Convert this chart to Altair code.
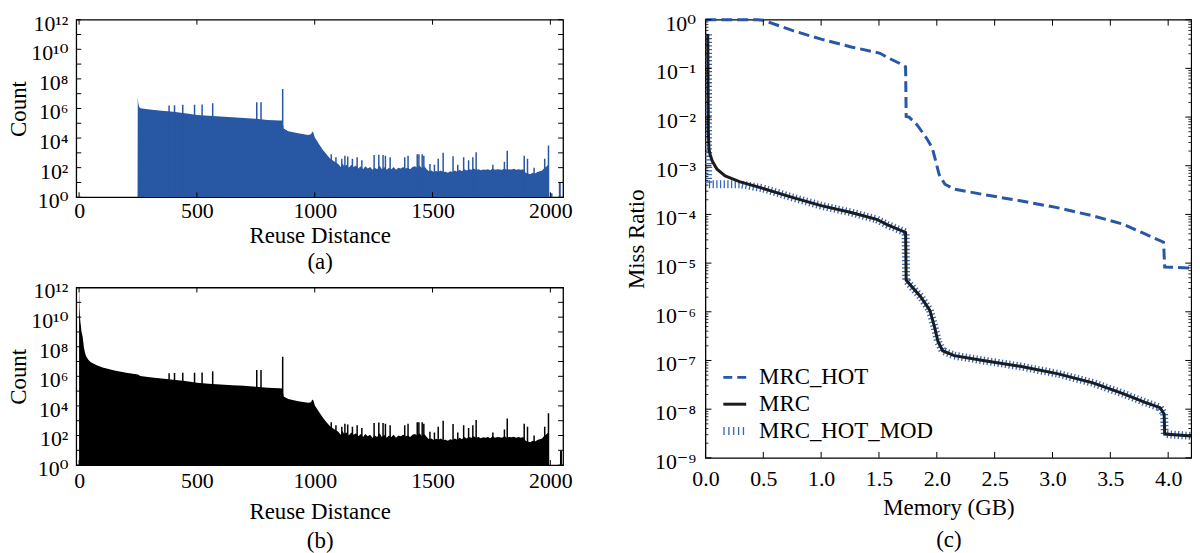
import altair as alt
import pandas as pd

FONT = "Liberation Serif, Tinos, Times New Roman, DejaVu Serif, serif"
BLUE = "#2857a4"
HATCH = "#3466b8"
BLACK = "#1c1c1c"

# ---------------- panels (a) / (b): reuse-distance histograms (log10 of count) -------------
hist_x_ticks = [0, 500, 1000, 1500, 2000]
hist_exps = list(range(0, 13))
hist_label_exps = [0, 2, 4, 6, 8, 10, 12]

head_a_dist = [248, 249, 251, 254, 258]
head_a_log = [0.0, 6.76, 6.40, 6.15, 6.05]

head_b_dist = [0, 1, 2, 4, 6, 8, 10, 12, 15, 18, 20, 25, 30, 40, 50, 75, 100, 150, 200, 250]
head_b_log = [11.8, 11.5, 10.6, 10.0, 9.6, 9.4, 9.0, 8.9, 8.7, 8.3, 8.0, 7.6, 7.35, 7.1, 6.95,
              6.75, 6.6, 6.4, 6.25, 6.12]

body_dist = [260, 300, 350, 400, 450, 500, 550, 600, 650, 700, 750, 800, 850, 863, 868, 888,
             930, 972, 984, 990, 995, 1000, 1010, 1020, 1035, 1050, 1065, 1080, 1095,
             1100, 1110, 1118, 1125, 1135, 1145, 1155, 1165, 1175, 1185, 1195, 1205, 1215, 1225,
             1235, 1245, 1255, 1265, 1275, 1285, 1295, 1305, 1315, 1325, 1335, 1345, 1355, 1365,
             1375, 1385, 1395, 1405, 1415, 1425, 1435, 1445, 1455, 1465, 1475, 1485, 1495, 1505,
             1515, 1525, 1535, 1545, 1555, 1565, 1575, 1585, 1595, 1605, 1615, 1625, 1635, 1645,
             1655, 1665, 1675, 1685, 1695, 1705, 1715, 1725, 1735, 1745, 1755, 1765, 1775, 1785,
             1795, 1805, 1815, 1825, 1835, 1845, 1855, 1865, 1875, 1885, 1895, 1905, 1915, 1925,
             1935, 1945, 1955, 1965, 1975, 1985, 1990, 1992, 1993]
body_log = [6.02, 5.93, 5.85, 5.77, 5.68, 5.56, 5.50, 5.45, 5.40, 5.36, 5.30, 5.22, 5.19, 5.18,
            4.64, 4.46, 4.32, 4.21, 4.25, 4.44, 4.35, 4.05, 3.80, 3.55, 3.20, 2.90, 2.62, 2.45,
            2.30,
            2.25, 2.05, 2.30, 2.10, 2.20, 2.00, 2.20, 2.05, 2.15, 1.95, 2.10, 1.90, 2.10, 1.95,
            2.05, 1.85, 2.00, 1.90, 2.15, 1.90, 2.05, 1.85, 2.00, 1.90, 2.05, 1.85, 2.00, 1.95,
            2.05, 1.95, 2.00, 1.90, 2.05, 2.10, 2.00, 2.15, 1.95, 2.10, 1.90, 1.75, 1.80, 1.70,
            1.78, 1.72, 1.80, 1.70, 1.72, 1.65, 1.75, 1.70, 1.80, 1.72, 1.85, 1.75, 1.90, 1.80,
            1.90, 1.85, 1.95, 1.85, 1.90, 1.82, 1.88, 1.85, 1.90, 1.82, 1.95, 1.85, 1.90, 1.88,
            1.85, 1.95, 1.85, 1.90, 1.88, 1.92, 1.85, 1.90, 1.85, 1.90, 1.65, 1.60, 1.55, 1.65,
            1.60, 1.70, 1.75, 1.80, 2.00, 2.10, 2.20, 2.30, 0.0]

spike_dist = [382, 405, 440, 490, 522, 567, 754, 772, 864,
              1070, 1090, 1115, 1128, 1140, 1160, 1180, 1200, 1252, 1272, 1290, 1300, 1320,
              1382, 1396, 1435, 1442, 1456, 1463, 1489, 1508, 1524, 1545, 1587, 1607, 1632,
              1653, 1671, 1685, 1756, 1805, 1817, 1889, 1903, 1931, 1976, 1992]
spike_log = [6.20, 6.22, 6.25, 6.25, 6.26, 6.35, 6.42, 6.42, 7.32,
             2.90, 2.70, 2.60, 2.80, 2.75, 2.60, 2.70, 2.50, 2.85, 2.88, 2.85, 2.80, 2.70,
             2.70, 2.80, 2.90, 2.90, 2.90, 2.80, 2.25, 2.20, 2.60, 3.00, 2.77, 2.20, 2.70,
             2.50, 2.70, 3.04, 2.20, 2.40, 3.15, 2.80, 2.60, 2.00, 2.60, 3.50]

end_bar_dist_a = [2005, 2040]
end_bar_log_a = [0.27, 1.0]
end_bar_dist_b = [2045]
end_bar_log_b = [0.97]

# ---------------- panel (c): miss ratio curves (log10 of miss ratio) ----------------------
mem_ticks = [0.0, 0.5, 1.0, 1.5, 2.0, 2.5, 3.0, 3.5, 4.0]
mrc_exps = [0, -1, -2, -3, -4, -5, -6, -7, -8, -9]
minor_mults = [2, 3, 4, 5, 6, 7, 8, 9]

hot_mem = [0, 0.45, 0.5, 0.75, 1.0, 1.26, 1.51, 1.56, 1.68, 1.73, 1.735, 1.76, 1.83, 1.91,
           1.96, 1.99, 2.02, 2.07, 2.15, 2.4, 2.72, 3.04, 3.35, 3.61, 3.80, 3.96, 3.97, 4.2]
hot_log = [0, 0, -0.01, -0.22, -0.40, -0.56, -0.69, -0.76, -0.90, -0.97, -1.99, -2.0, -2.16,
           -2.43, -2.63, -2.9, -3.18, -3.38, -3.48, -3.59, -3.72, -3.86, -4.03, -4.20, -4.40,
           -4.57, -5.08, -5.1]

mrc_mem = [0.02, 0.025, 0.03, 0.04, 0.06, 0.1, 0.17, 0.3, 0.49, 0.75, 1.0, 1.26, 1.48, 1.57,
           1.73, 1.735, 1.76, 1.86, 1.94, 1.98, 2.01, 2.05, 2.15, 2.4, 2.72, 3.04, 3.35, 3.61,
           3.80, 3.93, 3.965, 3.97, 4.2]
mrc_log = [-0.3, -2.3, -2.65, -2.77, -2.91, -3.07, -3.21, -3.33, -3.46, -3.65, -3.82, -3.96,
           -4.10, -4.21, -4.37, -5.35, -5.42, -5.69, -5.97, -6.31, -6.61, -6.80, -6.90, -7.0,
           -7.12, -7.27, -7.46, -7.68, -7.86, -7.97, -8.10, -8.51, -8.55]

mod_mem = [0.022, 0.023, 0.3, 0.49, 0.75, 1.0, 1.26, 1.48, 1.57, 1.73, 1.735, 1.76, 1.86, 1.94,
           1.98, 2.01, 2.05, 2.15, 2.4, 2.72, 3.04, 3.35, 3.61, 3.80, 3.93, 3.965, 3.97, 4.2]
mod_log = [-0.3, -3.38, -3.38, -3.46, -3.65, -3.82, -3.96, -4.10, -4.21, -4.37, -5.35, -5.42,
           -5.69, -5.97, -6.31, -6.61, -6.80, -6.90, -7.0, -7.12, -7.27, -7.46, -7.68, -7.86,
           -7.97, -8.10, -8.51, -8.55]

legend_names = ["MRC_HOT", "MRC", "MRC_HOT_MOD"]

# ------------------------------------------------------------------------------------------
SUP = str.maketrans("0123456789-", "⁰¹²³⁴⁵⁶⁷⁸⁹⁻")


def label_expr(exps):
    parts = [f"abs(log(datum.value)/LN10 - ({e})) < 0.01 ? '10{str(e).translate(SUP)}' : "
             for e in exps]
    return "".join(parts) + "''"


def frame_ticks(xvals, yvals, X, Y, W, H, tl):
    xt = pd.DataFrame({"t": xvals})
    yt = pd.DataFrame({"t": yvals})
    base_x = alt.Chart(xt).mark_rule(color="black", strokeWidth=1)
    base_y = alt.Chart(yt).mark_rule(color="black", strokeWidth=1)
    return [
        base_x.encode(x=X, y=alt.value(H), y2=alt.value(H - tl)),
        base_x.encode(x=X, y=alt.value(0), y2=alt.value(tl)),
        base_y.encode(y=Y, x=alt.value(0), x2=alt.value(tl)),
        base_y.encode(y=Y, x=alt.value(W), x2=alt.value(W - tl)),
    ]


W_AB, H_AB = 490, 178.7


def hist_panel(dist, logs, bar_dist, bar_log, color, sub, lp, tp, lh):
    xsc = alt.Scale(domain=[-12, 2054], nice=False, zero=False)
    ysc = alt.Scale(type="log", domain=[1, 1e12], nice=False)
    area_df = pd.DataFrame({"d": dist, "c": [10 ** v for v in logs]})
    spk_df = pd.DataFrame({"d": spike_dist, "c": [10 ** v for v in spike_log]})
    bar_df = pd.DataFrame({"d": bar_dist, "c": [10 ** v for v in bar_log]})
    xax = alt.Axis(values=hist_x_ticks, ticks=False, domain=False, grid=False, format="d",
                   labelPadding=lp, labelFlush=False, labelOverlap=False,
                   title=["Reuse Distance", sub], titlePadding=tp, titleLineHeight=lh)
    yax = alt.Axis(values=[10 ** e for e in hist_exps], labelExpr=label_expr(hist_label_exps),
                   ticks=False, domain=False, grid=False, labelPadding=8.4, labelOffset=3.5,
                   labelOverlap=False, labelFlush=False, title="Count", titlePadding=0)
    Xd = alt.X("d:Q", scale=xsc, axis=xax)
    Yc = alt.Y("c:Q", scale=ysc, axis=yax)
    Xt = alt.X("t:Q", scale=xsc, axis=xax)
    Yt = alt.Y("t:Q", scale=ysc, axis=yax)
    area = alt.Chart(area_df).mark_area(color=color, clip=True).encode(
        x=Xd, y=Yc, y2=alt.datum(1))
    spikes = alt.Chart(spk_df).mark_rule(color=color, strokeWidth=1.5, clip=True).encode(
        x=Xd, y=Yc, y2=alt.datum(1))
    bars = alt.Chart(bar_df).mark_rule(color=color, strokeWidth=2, clip=True).encode(
        x=Xd, y=Yc, y2=alt.datum(1))
    ticks = frame_ticks(hist_x_ticks, [10 ** e for e in hist_exps], Xt, Yt, W_AB, H_AB, 5)
    return alt.layer(area, spikes, bars, *ticks).properties(width=W_AB, height=H_AB)


panel_a = hist_panel(head_a_dist + body_dist, head_a_log + body_log,
                     end_bar_dist_a, end_bar_log_a, BLUE, "(a)", 3.4, 3.0, 26)
panel_b = hist_panel(head_b_dist + body_dist, head_b_log + body_log,
                     end_bar_dist_b, end_bar_log_b, "black", "(b)", 5.8, 8.8, 29.7)

# ---------------- panel (c) ----------------
W_C, H_C = 489, 441
xsc_c = alt.Scale(domain=[0, 4.2], nice=False, zero=False)
ysc_c = alt.Scale(type="log", domain=[1e-9, 1], nice=False)


def curve_df(mem, logs):
    return pd.DataFrame({"m": mem, "r": [10 ** v for v in logs], "i": list(range(len(mem)))})


xax_c = alt.Axis(values=mem_ticks, ticks=False, domain=False, grid=False, format=".1f",
                 labelPadding=10.7, labelFlush=False, labelOverlap=False,
                 title=["Memory (GB)", "(c)"], titlePadding=7.6, titleLineHeight=31.5)
yax_c = alt.Axis(values=[10.0 ** e for e in mrc_exps], labelExpr=label_expr(mrc_exps),
                 ticks=False, domain=False, grid=False, labelPadding=10, labelOffset=3.5,
                 labelOverlap=False, labelFlush=False, title="Miss Ratio", titlePadding=6)
Xm = alt.X("m:Q", scale=xsc_c, axis=xax_c)
Yr = alt.Y("r:Q", scale=ysc_c, axis=yax_c)

mod_line = alt.Chart(curve_df(mod_mem, mod_log)).mark_line(
    color=HATCH, strokeWidth=8, strokeDash=[1.3, 2.4], clip=True).encode(
    x=Xm, y=Yr, order="i:Q")
mrc_line = alt.Chart(curve_df(mrc_mem, mrc_log)).mark_line(
    color=BLACK, strokeWidth=3, clip=True).encode(x=Xm, y=Yr, order="i:Q")
hot_line = alt.Chart(curve_df(hot_mem, hot_log)).mark_line(
    color=BLUE, strokeWidth=3, strokeDash=[11, 5]).encode(x=Xm, y=Yr, order="i:Q")

Xt_c = alt.X("t:Q", scale=xsc_c, axis=xax_c)
Yt_c = alt.Y("t:Q", scale=ysc_c, axis=yax_c)
ticks_c = frame_ticks(mem_ticks, [10.0 ** e for e in mrc_exps], Xt_c, Yt_c, W_C, H_C, 6)
minor_df = pd.DataFrame({"t": [m * 10.0 ** e for e in mrc_exps[1:] for m in minor_mults]})
minor_base = alt.Chart(minor_df).mark_rule(color="black", strokeWidth=0.8)
minor_ticks = [
    minor_base.encode(y=Yt_c, x=alt.value(0), x2=alt.value(3)),
    minor_base.encode(y=Yt_c, x=alt.value(W_C), x2=alt.value(W_C - 3)),
]

leg_rows = [360, 387, 414]
leg_styles = [
    dict(color=BLUE, strokeWidth=3, strokeDash=[9, 5]),
    dict(color=BLACK, strokeWidth=3),
    dict(color=HATCH, strokeWidth=8, strokeDash=[1.3, 3.6]),
]
legend_layers = []
for name, yy, sty in zip(legend_names, leg_rows, leg_styles):
    ldf = pd.DataFrame({"name": [name]})
    legend_layers.append(alt.Chart(ldf).mark_rule(**sty).encode(
        x=alt.value(18), x2=alt.value(41), y=alt.value(yy)))
    legend_layers.append(alt.Chart(ldf).mark_text(
        align="left", baseline="middle", fontSize=23, font=FONT, color="black").encode(
        x=alt.value(54), y=alt.value(yy), text="name:N"))

panel_c = alt.layer(mod_line, mrc_line, hot_line, *ticks_c, *minor_ticks,
                    *legend_layers).properties(width=W_C, height=H_C)

left = alt.vconcat(panel_a, panel_b, spacing=90.6, bounds="flush")
chart = alt.hconcat(left, panel_c, spacing=633.3, bounds="flush").properties(
    autosize=alt.AutoSizeParams(type="none"),
    padding={"left": 68.7, "top": 10, "right": 1123, "bottom": 535},
).configure_view(stroke="black", strokeWidth=1.3).configure_axis(
    labelFont=FONT, titleFont=FONT, labelFontSize=22, titleFontSize=23,
    labelColor="black", titleColor="black", titleFontWeight="normal",
).configure_text(font=FONT)

chart.save("out.html", embed_options={"renderer": "svg", "actions": False})
